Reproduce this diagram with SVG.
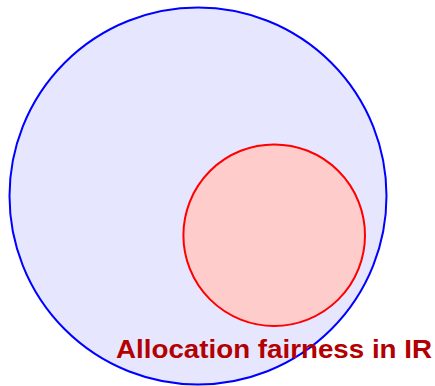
<svg xmlns="http://www.w3.org/2000/svg" width="435" height="386" viewBox="0 0 435 386">
<style>
.outer{fill:#e6e6ff;stroke:#0000ff;stroke-width:2}
.inner{fill:#ffcccc;stroke:#ff0000;stroke-width:2}
.lbl{font-family:"Liberation Sans",Arial,sans-serif;font-weight:bold;font-size:26.5px;fill:#b30000}
</style>
<rect width="435" height="386" fill="#ffffff"/>
<g id="outer-set"><circle class="outer" cx="198" cy="196" r="188.5"/></g>
<g id="inner-set"><circle class="inner" cx="274.2" cy="235.2" r="90.8"/></g>
<g id="label"><text class="lbl" x="116" y="357.5" textLength="316" lengthAdjust="spacingAndGlyphs">Allocation fairness in IR</text></g>
<g id="connectors"/>
</svg>
